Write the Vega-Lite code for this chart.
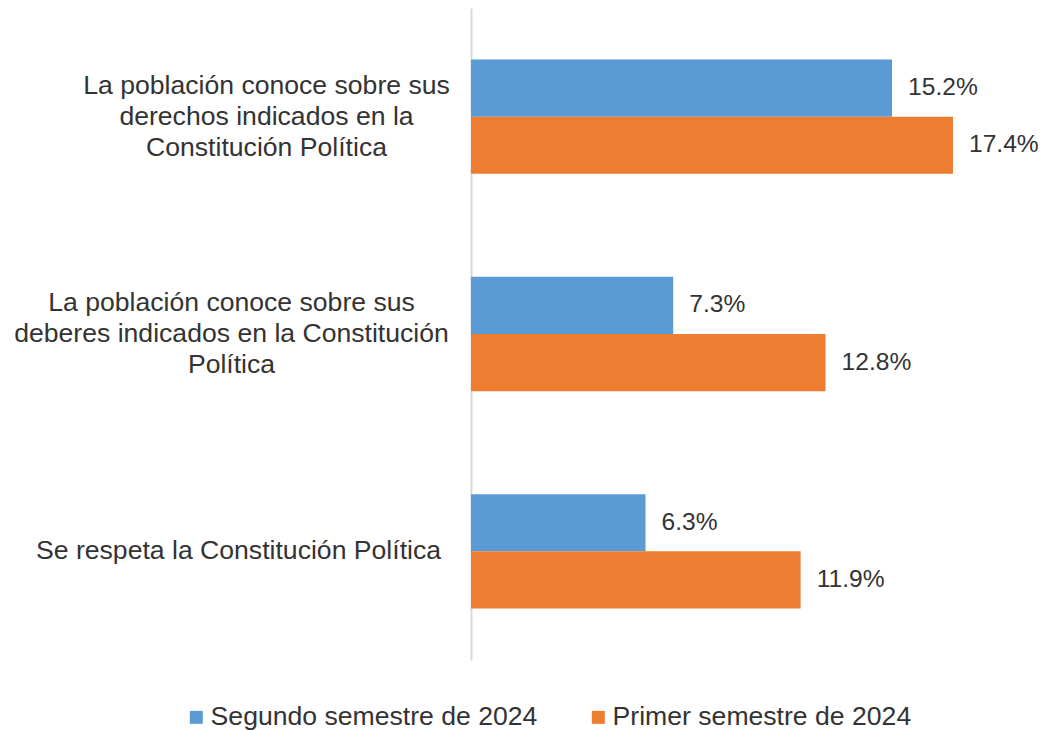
{
  "$schema": "https://vega.github.io/schema/vega-lite/v6.json",
  "width": 554,
  "height": 652,
  "autosize": {"type": "none"},
  "padding": {"left": 471, "top": 8, "right": 15, "bottom": 70},
  "background": "white",
  "config": {"view": {"stroke": null}, "font": "Liberation Sans"},
  "data": {
    "values": [
      {"pregunta": "La población conoce sobre sus|derechos indicados en la|Constitución Política", "periodo": "Segundo semestre de 2024", "valor": 0.152},
      {"pregunta": "La población conoce sobre sus|derechos indicados en la|Constitución Política", "periodo": "Primer semestre de 2024", "valor": 0.174},
      {"pregunta": "La población conoce sobre sus|deberes indicados en la Constitución|Política", "periodo": "Segundo semestre de 2024", "valor": 0.073},
      {"pregunta": "La población conoce sobre sus|deberes indicados en la Constitución|Política", "periodo": "Primer semestre de 2024", "valor": 0.128},
      {"pregunta": "Se respeta la Constitución Política", "periodo": "Segundo semestre de 2024", "valor": 0.063},
      {"pregunta": "Se respeta la Constitución Política", "periodo": "Primer semestre de 2024", "valor": 0.119}
    ]
  },
  "encoding": {
    "y": {
      "field": "pregunta",
      "type": "nominal",
      "sort": null,
      "scale": {"paddingInner": 0.4737, "paddingOuter": 0.2368},
      "axis": {
        "title": null,
        "domain": true,
        "domainColor": "#d9d9d9",
        "domainWidth": 2,
        "ticks": false,
        "grid": false,
        "labelExpr": "split(datum.label, '|')",
        "labelAlign": "center",
        "labelBaseline": "middle",
        "labelFontSize": 26.6,
        "labelLineHeight": 31,
        "labelColor": "#333333",
        "labelLimit": 600,
        "labelOffset": {
          "condition": {"test": "indexof(datum.value, '|') >= 0", "value": -31},
          "value": 0
        },
        "labelPadding": {
          "condition": [
            {"test": "indexof(datum.value, 'derechos') >= 0", "value": 205},
            {"test": "indexof(datum.value, 'deberes') >= 0", "value": 240}
          ],
          "value": 233
        }
      }
    },
    "yOffset": {"field": "periodo", "type": "nominal", "sort": ["Segundo semestre de 2024", "Primer semestre de 2024"]},
    "x": {"field": "valor", "type": "quantitative", "scale": {"domain": [0, 0.2]}, "axis": null}
  },
  "layer": [
    {
      "mark": {"type": "bar"},
      "encoding": {
        "color": {
          "field": "periodo",
          "type": "nominal",
          "scale": {"domain": ["Segundo semestre de 2024", "Primer semestre de 2024"], "range": ["#5B9BD5", "#ED7D31"]},
          "legend": {
            "orient": "none",
            "legendX": -288,
            "legendY": 696,
            "direction": "horizontal",
            "title": null,
            "symbolType": "square",
            "symbolSize": 169,
            "symbolStrokeWidth": 0,
            "labelFontSize": 26.6,
            "labelColor": "#333333",
            "labelLimit": 600,
            "labelOffset": 1,
            "columnPadding": 47
          }
        }
      }
    },
    {
      "mark": {"type": "text", "align": "left", "baseline": "middle", "dx": 16, "fontSize": 24.6, "color": "#333333"},
      "encoding": {"text": {"field": "valor", "type": "quantitative", "format": ".1%"}}
    }
  ]
}
